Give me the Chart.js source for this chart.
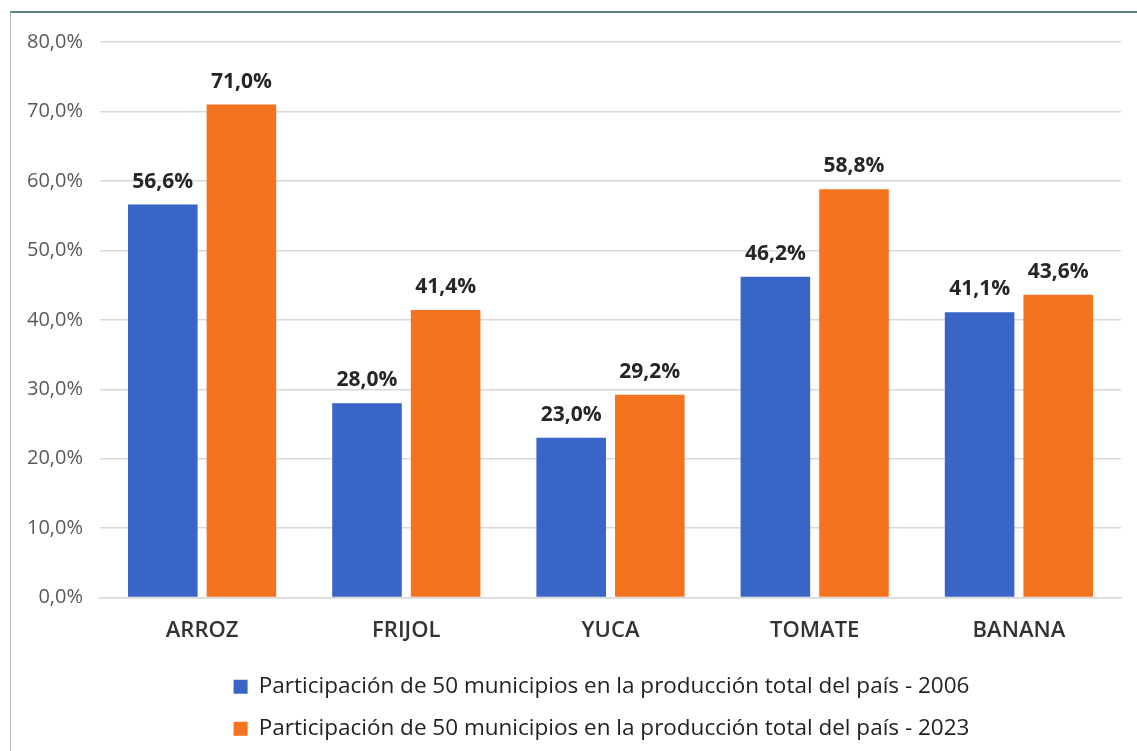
<!DOCTYPE html>
<html><head><meta charset="utf-8">
<script src="https://cdn.jsdelivr.net/npm/chart.js@4"></script>
<style>
html,body{margin:0;padding:0;background:#fff;}
#wrap{position:relative;width:1137px;height:751px;}
#frame{position:absolute;left:10px;top:11px;right:0;bottom:0;border-top:2px solid #5f8279;border-left:1px solid #b9b9b9;pointer-events:none;}
canvas{position:absolute;left:0;top:0;}
</style></head>
<body>
<div id="wrap"><canvas id="c" width="1137" height="751"></canvas><div id="frame"></div></div>
<script>
const categories = ["ARROZ","FRIJOL","YUCA","TOMATE","BANANA"];
const series2006 = [56.6, 28.0, 23.0, 46.2, 41.1];
const series2023 = [71.0, 41.4, 29.2, 58.8, 43.6];
const seriesNames = ["Participación de 50 municipios en la producción total del país - 2006",
                     "Participación de 50 municipios en la producción total del país - 2023"];
const yTicks = [0,10,20,30,40,50,60,70,80];

const fmt = v => v.toFixed(1).replace('.', ',') + '%';

const labelPlugin = {
  id: 'barLabels',
  afterDatasetsDraw(chart) {
    const ctx = chart.ctx;
    ctx.save();
    ctx.font = 'bold 21px "Open Sans"';
    ctx.fillStyle = '#262626';
    ctx.textAlign = 'center';
    ctx.textBaseline = 'alphabetic';
    chart.data.datasets.forEach((ds, i) => {
      chart.getDatasetMeta(i).data.forEach((bar, j) => {
        ctx.fillText(fmt(ds.data[j]), bar.x, bar.y - 17);
      });
    });
    ctx.restore();
  }
};

const legendShift = {
  id: 'legendShift',
  afterLayout(chart) {
    const lg = chart.legend;
    if (lg) { lg.left += 35; lg.right += 35; }
  }
};

new Chart(document.getElementById('c'), {
  type: 'bar',
  data: {
    labels: categories,
    datasets: [
      {label: seriesNames[0], data: series2006, backgroundColor: '#3865c6'},
      {label: seriesNames[1], data: series2023, backgroundColor: '#f5731f'}
    ]
  },
  options: {
    responsive: false,
    animation: false,
    devicePixelRatio: 1,
    layout: {padding: {left: 12, right: 16, top: 42, bottom: 1}},
    datasets: {bar: {categoryPercentage: 0.77, barPercentage: 0.885}},
    scales: {
      x: {
        grid: {display: false},
        border: {color: '#d9d9d9', width: 1.5},
        ticks: {color: '#333', font: {family: '"Open Sans"', size: 22, weight: '600'}, padding: 12}
      },
      y: {
        min: 0, max: 80,
        afterBuildTicks: s => { s.ticks = yTicks.map(v => ({value: v})); },
        afterFit: s => { s.width = 88; },
        grid: {color: '#d9d9d9', lineWidth: 1.5, drawTicks: false},
        border: {display: false},
        ticks: {color: '#595959', font: {family: '"Open Sans"', size: 20}, padding: 17, callback: v => fmt(v)}
      }
    },
    plugins: {
      legend: {
        position: 'bottom',
        labels: {color: '#222', font: {family: '"Open Sans"', size: 22.5}, boxWidth: 14, boxHeight: 14, padding: 19.5}
      },
      tooltip: {enabled: false}
    }
  },
  plugins: [labelPlugin, legendShift]
});
</script>
</body></html>
